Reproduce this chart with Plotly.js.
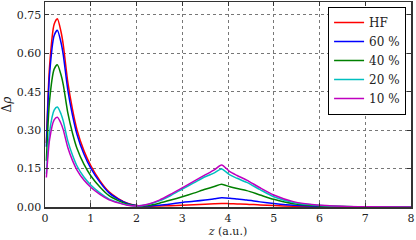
<!DOCTYPE html>
<html>
<head>
<meta charset="utf-8">
<script src="https://cdn.plot.ly/plotly-3.0.1.min.js"></script>
<style>html,body{margin:0;padding:0;background:#fff;}#chart{width:416px;height:240px;}</style>
</head>
<body>
<div id="chart"></div>
<script>
const z = [0.03,0.1,0.2,0.27,0.35,0.4,0.5,0.6,0.7,0.85,1.0,1.2,1.4,1.6,1.8,2.0,2.25,2.5,2.75,3.0,3.25,3.5,3.7,3.86,4.04,4.2,4.41,4.7,5.0,5.43,5.94,6.5,7.0,8.0];
const seriesNames = ["HF","60 %","40 %","20 %","10 %"];
const hf =  [0.25,0.55,0.713,0.735,0.684,0.632,0.485,0.382,0.301,0.22,0.162,0.103,0.059,0.033,0.015,0.006,0.003,0.004,0.005,0.007,0.009,0.011,0.013,0.014,0.013,0.012,0.011,0.008,0.006,0.003,0.0015,0.0005,0.0002,0];
const p60 = [0.235,0.518,0.669,0.69,0.642,0.593,0.455,0.359,0.283,0.207,0.152,0.097,0.055,0.031,0.014,0.006,0.004,0.007,0.012,0.018,0.022,0.027,0.032,0.036,0.034,0.031,0.027,0.020,0.014,0.007,0.003,0.001,0.0004,0];
const p40 = [0.18,0.416,0.538,0.555,0.516,0.477,0.366,0.289,0.228,0.167,0.122,0.078,0.044,0.025,0.011,0.005,0.006,0.015,0.027,0.040,0.054,0.069,0.080,0.089,0.079,0.072,0.064,0.047,0.030,0.013,0.005,0.002,0.0008,0];
const p20 = [0.13,0.293,0.378,0.39,0.363,0.335,0.257,0.203,0.160,0.117,0.086,0.055,0.031,0.018,0.008,0.004,0.010,0.024,0.045,0.070,0.094,0.118,0.133,0.148,0.125,0.112,0.096,0.068,0.040,0.018,0.007,0.002,0.001,0];
const p10 = [0.115,0.263,0.340,0.35,0.326,0.301,0.231,0.182,0.144,0.105,0.077,0.049,0.028,0.016,0.007,0.004,0.011,0.027,0.050,0.075,0.100,0.125,0.145,0.164,0.138,0.123,0.105,0.075,0.047,0.021,0.008,0.003,0.001,0];
const yTicks = [0,0.15,0.30,0.45,0.60,0.75];
const xTicks = [0,1,2,3,4,5,6,7,8];

const colors = ["#ff0000","#0000ff","#008000","#00bfbf","#bf00bf"];
const allY = [hf,p60,p40,p20,p10];
const traces = allY.map((y,i)=>({
  x: z, y: y, name: seriesNames[i], type:'scatter', mode:'lines',
  line:{color:colors[i], width:1.5, shape:'spline', smoothing:0.7}
}));
const fam = 'DejaVu Serif';
const font = {family:fam, size:11, color:'#222'};
const layout = {
  width:416, height:240,
  margin:{l:45,r:5,t:2,b:33},
  paper_bgcolor:'#fff', plot_bgcolor:'#fff',
  font: font,
  showlegend:true,
  legend:{x:0.986, y:0.976, xanchor:'right', yanchor:'top', bgcolor:'#fff', bordercolor:'#000', borderwidth:1.2, font:{family:fam,size:12,color:'#222'}, tracegroupgap:0},
  xaxis:{range:[0,8], tickvals:xTicks, ticktext:xTicks.map(String), ticks:'inside', ticklen:4, tickcolor:'#333', mirror:'ticks', showline:true, linecolor:'#333', linewidth:1.5, showgrid:true, gridcolor:'#777', griddash:'dot', gridwidth:1, zeroline:false,
    tickfont:{family:fam,size:11,color:'#222'},
    title:{text:'<i>z</i> (a.u.)', font:{family:fam,size:11,color:'#222'}, standoff:2}},
  yaxis:{range:[0,0.8], tickvals:yTicks, ticktext:yTicks.map(v=>v.toFixed(2)), ticks:'inside', ticklen:4, tickcolor:'#333', mirror:'ticks', showline:true, linecolor:'#333', linewidth:1.5, showgrid:true, gridcolor:'#777', griddash:'dot', gridwidth:1, zeroline:false,
    tickfont:{family:fam,size:11,color:'#222'},
    title:{text:'Δ<i>ρ</i>', font:{family:fam,size:12,color:'#222'}, standoff:5}}
};
Plotly.newPlot('chart', traces, layout, {displayModeBar:false, staticPlot:true});
</script>
</body>
</html>
